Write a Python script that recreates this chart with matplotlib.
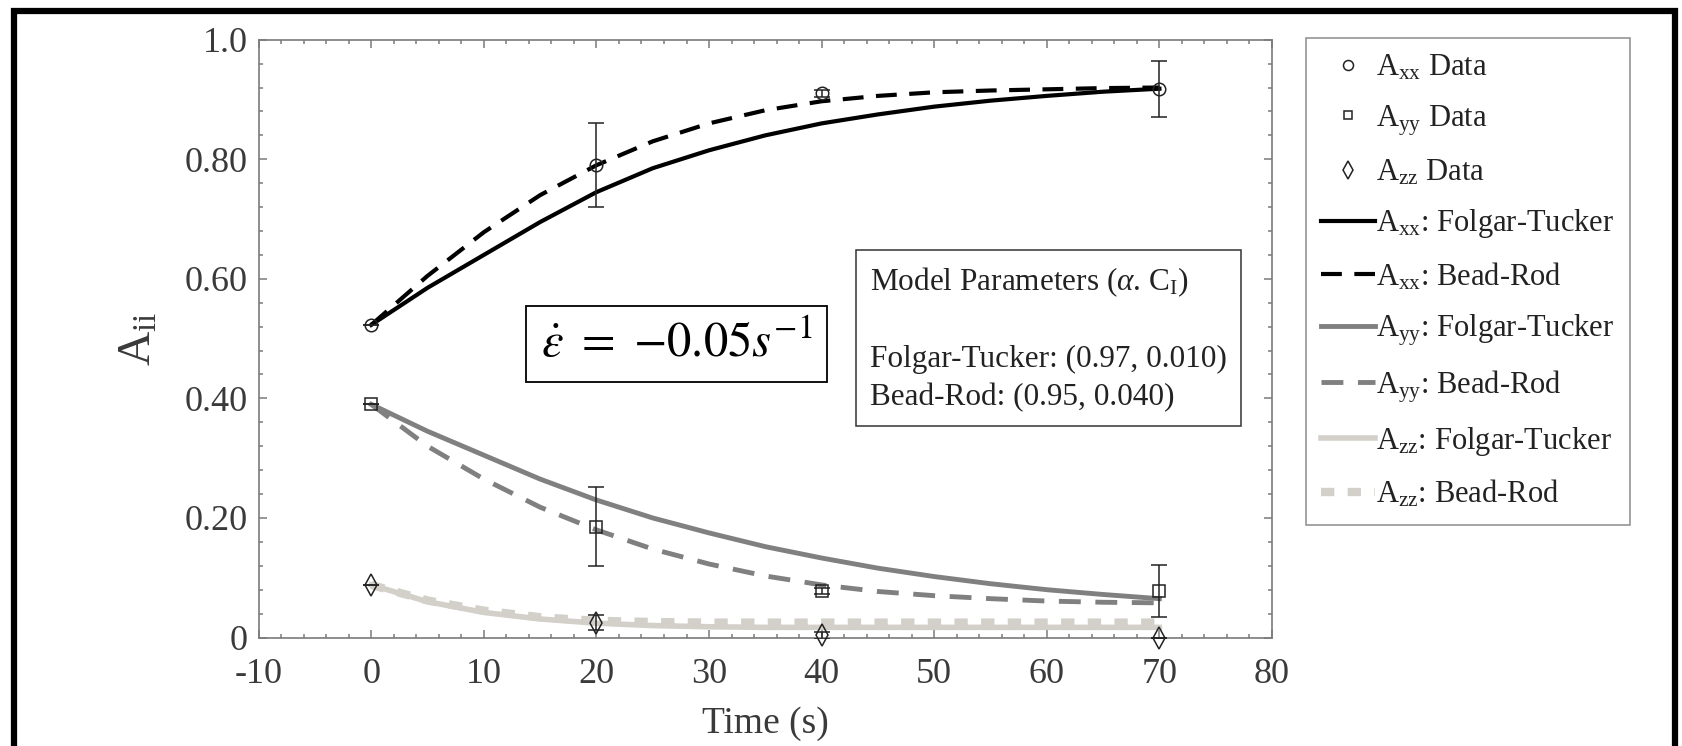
import matplotlib
matplotlib.use('Agg')
import numpy as np
import matplotlib.pyplot as plt
from matplotlib.patches import Rectangle
from matplotlib.ticker import MultipleLocator

plt.rcParams['font.family'] = ['Liberation Serif', 'DejaVu Serif']
plt.rcParams['mathtext.fontset'] = 'custom'
plt.rcParams['mathtext.rm'] = 'Liberation Serif'
plt.rcParams['mathtext.it'] = 'Liberation Serif:italic'

# measured data
t_data = [0, 20, 40, 70]
axx_data = [0.523, 0.790, 0.910, 0.918]
axx_err = [0.0, 0.070, 0.006, 0.047]
ayy_data = [0.390, 0.185, 0.078, 0.078]
ayy_err = [0.0, 0.066, 0.005, 0.043]
azz_data = [0.088, 0.025, 0.004, 0.000]
azz_err = [0.0, 0.012, 0.006, 0.0]

# model curves
t_model = [0, 5, 10, 15, 20, 25, 30, 35, 40, 45, 50, 55, 60, 65, 70]
axx_ft = [0.523, 0.585, 0.640, 0.695, 0.745, 0.785, 0.815, 0.840, 0.860,
          0.875, 0.888, 0.898, 0.906, 0.913, 0.918]
axx_br = [0.523, 0.605, 0.678, 0.740, 0.790, 0.830, 0.860, 0.882, 0.897,
          0.906, 0.912, 0.915, 0.917, 0.919, 0.920]
ayy_ft = [0.390, 0.345, 0.305, 0.265, 0.230, 0.200, 0.175, 0.152, 0.133,
          0.116, 0.102, 0.090, 0.080, 0.072, 0.065]
ayy_br = [0.390, 0.320, 0.265, 0.218, 0.180, 0.148, 0.123, 0.103, 0.088,
          0.077, 0.070, 0.065, 0.061, 0.059, 0.058]
azz_ft = [0.088, 0.060, 0.042, 0.031, 0.024, 0.020, 0.018, 0.017, 0.017,
          0.017, 0.017, 0.017, 0.017, 0.017, 0.017]
azz_br = [0.088, 0.062, 0.045, 0.034, 0.028, 0.026, 0.025, 0.025, 0.025,
          0.025, 0.025, 0.025, 0.025, 0.025, 0.025]

x_ticks = [-10, 0, 10, 20, 30, 40, 50, 60, 70, 80]
y_ticks = [0, 0.2, 0.4, 0.6, 0.8, 1.0]
y_ticklabels = ['0', '0.20', '0.40', '0.60', '0.80', '1.0']

c_black = '#000000'
c_gray = '#808080'
c_light = '#d3d0c9'
c_axis = '#7a7a7a'
c_text = '#3a3a3a'

fig = plt.figure(figsize=(16.83, 7.46), dpi=100)
ax = fig.add_axes([0.1537, 0.1454, 0.6021, 0.8014])

# model lines
ax.plot(t_model, axx_ft, color=c_black, lw=3, label=r'$\mathrm{A}_{\mathrm{xx}}$: Folgar-Tucker')
ax.plot(t_model, axx_br, color=c_black, lw=3, dashes=(5, 3), label=r'$\mathrm{A}_{\mathrm{xx}}$: Bead-Rod')
ax.plot(t_model, ayy_ft, color=c_gray, lw=3.5, label=r'$\mathrm{A}_{\mathrm{yy}}$: Folgar-Tucker')
ax.plot(t_model, ayy_br, color=c_gray, lw=3.5, dashes=(4.5, 3), label=r'$\mathrm{A}_{\mathrm{yy}}$: Bead-Rod')
ax.plot(t_model, azz_ft, color=c_light, lw=4, label=r'$\mathrm{A}_{\mathrm{zz}}$: Folgar-Tucker')
ax.plot(t_model, azz_br, color=c_light, lw=6, dashes=(1.6, 1.6), label=r'$\mathrm{A}_{\mathrm{zz}}$: Bead-Rod')

# error bars and data markers
for vals, errs in [(axx_data, axx_err), (ayy_data, ayy_err), (azz_data, azz_err)]:
    ax.errorbar(t_data, vals, yerr=errs, fmt='none', ecolor='#222222',
                elinewidth=1.1, capsize=6, capthick=1.1, zorder=4)
h_xx, = ax.plot(t_data, axx_data, ls='none', marker='o', ms=9, mfc='none',
                mec='#222222', mew=1.1, zorder=5, label=r'$\mathrm{A}_{\mathrm{xx}}$ Data')
h_yy, = ax.plot(t_data, ayy_data, ls='none', marker='s', ms=8, mfc='none',
                mec='#222222', mew=1.1, zorder=5, label=r'$\mathrm{A}_{\mathrm{yy}}$ Data')
h_zz, = ax.plot(t_data, azz_data, ls='none', marker='d', ms=11, mfc='none',
                mec='#222222', mew=1.1, zorder=5, clip_on=False,
                label=r'$\mathrm{A}_{\mathrm{zz}}$ Data')

ax.set_xlim(-10, 80)
ax.set_ylim(0, 1.0)
ax.set_xticks(x_ticks)
ax.set_xticklabels([str(v) for v in x_ticks])
ax.set_yticks(y_ticks)
ax.set_yticklabels(y_ticklabels)
ax.xaxis.set_minor_locator(MultipleLocator(2))
ax.yaxis.set_minor_locator(MultipleLocator(0.04))
ax.tick_params(which='both', direction='in', top=True, right=True,
               color=c_axis, labelcolor=c_text, labelsize=26, width=1.1)
ax.tick_params(which='major', length=6)
ax.tick_params(which='minor', length=3)
ax.tick_params(axis='y', which='major', pad=8)
ax.tick_params(axis='x', which='major', pad=15)
for s in ax.spines.values():
    s.set_color(c_axis)
    s.set_linewidth(1.2)

ax.set_xlabel('Time (s)', fontsize=27, color=c_text, labelpad=11)
ax.set_ylabel(r'$\mathrm{A}_{\mathrm{ii}}$', fontsize=34, color=c_text, labelpad=17)

# annotation boxes
ax.text(0.4125, 0.491, r'$\dot{\varepsilon}\ =\ {-}0.05s^{-1}$', transform=ax.transAxes,
        ha='center', va='center', fontsize=35, math_fontfamily='stix',
        bbox=dict(boxstyle='square,pad=0.3', fc='white', ec='black', lw=1.3))
ax.text(0.603, 0.622,
        'Model Parameters (' + r'$\alpha$' + '. ' + r'$\mathrm{C}_{\mathrm{I}}$' + ')\n\n'
        'Folgar-Tucker: (0.97, 0.010)\nBead-Rod: (0.95, 0.040)',
        transform=ax.transAxes, ha='left', va='top', fontsize=22.5,
        color='#222222', linespacing=1.38,
        bbox=dict(boxstyle='square,pad=0.45', fc='white', ec='#333333', lw=1.1))

# legend
handles, labels = ax.get_legend_handles_labels()
order = [labels.index(h.get_label()) for h in (h_xx, h_yy, h_zz)] + list(range(6))
leg = fig.legend([handles[i] for i in order], [labels[i] for i in order],
                 loc='upper left', bbox_to_anchor=(0.776, 0.949),
                 fontsize=22, frameon=True, fancybox=False, edgecolor=c_axis,
                 handlelength=1.75, handletextpad=0.05, labelspacing=0.66,
                 borderpad=0.5, markerscale=0.8, borderaxespad=0)
leg.get_frame().set_linewidth(1.2)
for txt in leg.get_texts():
    txt.set_color('#222222')

# thick outer border
fig.patches.append(Rectangle((14 / 1683, -0.05), (1675 - 14) / 1683, 1.05 - 11 / 746,
                             transform=fig.transFigure, fill=False, ec='black', lw=4.5))

fig.savefig('out.png', dpi=100)
